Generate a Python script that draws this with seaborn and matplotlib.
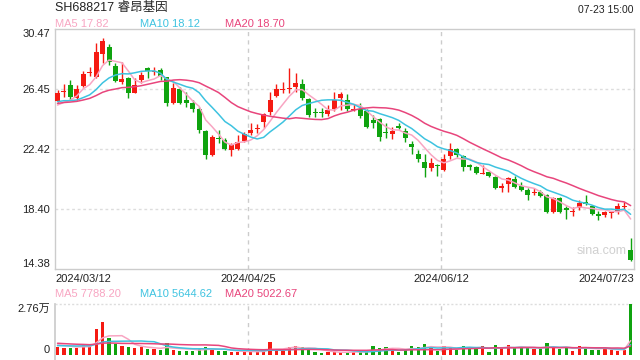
import numpy as np
import pandas as pd
import matplotlib
matplotlib.use("Agg")
import matplotlib.pyplot as plt
import seaborn as sns

# ---------------- data ----------------
title = "SH688217 睿昂基因"
stamp = "07-23 15:00"

opens = [25.66, 26.27, 26.71, 25.82, 26.67, 27.53, 27.27, 28.79, 29.28, 28.01,
         26.89, 27.16, 26.20, 27.05, 27.83, 27.61, 27.72, 27.23, 25.53, 26.42,
         25.71, 25.53, 25.11, 23.63, 22.02, 23.18, 23.03, 22.36, 22.42, 22.98,
         23.47, 23.74, 24.21, 24.93, 26.00, 26.38, 26.44, 26.56, 26.78, 25.75,
         24.93, 24.93, 24.75, 25.08, 25.82, 25.71, 25.04, 25.11, 25.00, 24.37,
         24.42, 23.59, 23.44, 23.97, 23.64, 22.77, 22.10, 21.54, 21.18, 21.36,
         21.02, 21.98, 22.43, 21.96, 21.36, 21.25, 20.78, 20.86, 20.57, 19.84,
         20.06, 20.42, 19.95, 19.68, 19.50, 19.57, 19.34, 18.23, 19.16, 18.45,
         18.20, 18.45, 18.85, 18.63, 18.07, 18.00, 18.16, 18.18, 18.54, 15.66]
closes = [26.20, 26.33, 25.93, 26.42, 27.45, 27.58, 28.95, 29.69, 28.28, 27.00,
          27.12, 26.16, 26.71, 27.38, 27.67, 27.67, 27.32, 25.53, 26.54, 25.53,
          25.53, 25.11, 23.70, 22.02, 23.25, 23.07, 22.40, 22.69, 22.92, 23.43,
          23.70, 23.81, 24.75, 25.71, 26.44, 26.42, 26.49, 26.87, 25.82, 24.70,
          24.86, 24.86, 25.04, 25.71, 26.11, 25.11, 25.11, 24.66, 23.93, 24.20,
          23.26, 23.53, 23.64, 23.86, 23.19, 22.59, 21.74, 21.18, 21.51, 21.29,
          21.76, 22.43, 22.03, 21.25, 21.25, 20.84, 20.84, 20.64, 19.79, 19.97,
          20.46, 19.90, 19.68, 19.34, 19.57, 19.30, 18.18, 19.12, 18.23, 18.34,
          18.27, 18.79, 18.74, 18.07, 17.94, 18.23, 18.23, 18.61, 18.61, 14.98]
highs = [26.38, 26.76, 27.05, 26.71, 27.67, 27.94, 29.51, 29.84, 29.46, 28.17,
         28.23, 27.27, 27.16, 27.60, 27.94, 27.94, 27.83, 27.27, 26.87, 26.60,
         26.27, 25.71, 25.26, 23.70, 23.36, 23.70, 23.14, 22.80, 23.36, 23.59,
         24.15, 24.08, 24.86, 26.27, 26.78, 26.94, 27.83, 27.54, 27.09, 25.82,
         25.20, 25.20, 25.37, 26.27, 26.27, 26.09, 25.42, 25.49, 25.11, 24.71,
         24.49, 24.15, 23.93, 24.15, 23.86, 22.97, 22.36, 22.07, 21.81, 21.43,
         22.07, 22.81, 22.52, 22.03, 21.40, 21.29, 21.36, 20.91, 20.62, 20.17,
         20.53, 20.62, 20.19, 19.79, 19.79, 19.68, 19.39, 19.19, 19.23, 18.61,
         18.56, 19.01, 19.34, 18.67, 18.29, 18.29, 18.29, 18.83, 18.90, 16.44]
lows = [25.60, 25.93, 25.71, 25.71, 26.60, 27.32, 27.16, 28.17, 28.05, 26.94,
        26.76, 25.86, 26.16, 26.87, 27.16, 27.38, 27.05, 25.31, 25.44, 25.44,
        25.26, 24.93, 23.47, 21.76, 21.98, 22.80, 22.36, 21.98, 22.36, 22.92,
        23.36, 23.52, 23.81, 24.70, 25.89, 26.16, 26.16, 26.27, 25.71, 24.55,
        24.59, 24.55, 24.64, 24.99, 25.04, 24.98, 24.98, 24.49, 23.86, 23.86,
        22.99, 23.15, 23.10, 23.77, 22.92, 22.07, 21.54, 20.58, 20.96, 20.64,
        20.96, 21.76, 21.92, 20.96, 21.02, 20.76, 20.73, 20.57, 19.72, 19.57,
        19.57, 19.79, 19.63, 19.01, 19.34, 19.23, 18.11, 18.11, 18.16, 17.74,
        17.94, 18.34, 18.67, 18.00, 17.67, 17.85, 17.78, 18.07, 18.34, 14.94]
volumes = [4177, 3995, 3995, 3995, 5993, 4540, 14165, 17615, 9443, 6174,
           4903, 4358, 3995, 4540, 3450, 3269, 2724, 6538, 2906, 2179,
           2179, 2179, 3813, 4358, 3087, 2179, 2179, 1816, 1816, 1816,
           1816, 1816, 2361, 7082, 2724, 2361, 4540, 4903, 4177, 3087,
           1634, 908, 1634, 1453, 1816, 1634, 1453, 1634, 1816, 4903,
           3813, 4358, 3087, 1634, 3087, 4903, 4358, 5993, 4177, 2179,
           4903, 3995, 2724, 4903, 3632, 3632, 4903, 1634, 5448, 3632,
           5448, 4177, 3813, 3813, 3269, 3269, 6538, 4177, 3269, 3995,
           2179, 4903, 3995, 2906, 2906, 3269, 2724, 2361, 2906, 27600]

# sessions before the first visible one (only used to seed the moving averages)
prior_closes = [25.1, 25.3, 25.5, 25.6, 25.4, 25.2, 25.3, 25.5, 25.4, 25.3,
                25.7, 25.9, 26.0, 25.8, 25.75, 25.4, 25.2, 25.0, 25.05]
prior_volumes = [8000, 7500, 7200, 7800, 7600, 7400, 7900, 7700, 7500, 7670,
                 4800, 4600, 4700, 4900, 4610, 5600, 5900, 5800, 5763]

price_ticks = [30.47, 26.45, 22.42, 18.40, 14.38]
price_tick_labels = ["30.47", "26.45", "22.42", "18.40", "14.38"]
date_ticks = [0, 30, 60, 89]
date_labels = ["2024/03/12", "2024/04/25", "2024/06/12", "2024/07/23"]
vol_ticks = [27600, 0]
vol_tick_labels = ["2.76万", "0"]

price_legend = [("MA5", "17.82"), ("MA10", "18.12"), ("MA20", "18.70")]
vol_legend = [("MA5", "7788.20"), ("MA10", "5644.62"), ("MA20", "5022.67")]

# ---------------- styles ----------------
UP = "#f51a12"
DOWN = "#0fa30f"
MA_COLORS = ["#f8a5c2", "#3ec3e0", "#e8457c"]
GRID = "#dddddd"
FRAME = "#cccccc"
TEXT = "#222222"

sns.set_theme(style="white")
plt.rcParams["font.family"] = ["Liberation Sans", "Noto Sans CJK SC", "DejaVu Sans"]

n = len(closes)
idx = np.arange(n)
df = pd.DataFrame({"i": idx, "open": opens, "close": closes,
                   "high": highs, "low": lows, "vol": volumes})
df["up"] = df["close"] >= df["open"]
df["color"] = np.where(df["up"], UP, DOWN)

full_c = pd.Series(prior_closes + closes)
full_v = pd.Series(prior_volumes + volumes)
for w in (5, 10, 20):
    df[f"ma{w}"] = full_c.rolling(w).mean().values[-n:]
    df[f"vma{w}"] = full_v.rolling(w).mean().values[-n:]

W, H = 640, 360
fig = plt.figure(figsize=(6.4, 3.6), dpi=100)
ax = fig.add_axes([55 / W, 1 - 269 / H, 579 / W, 240 / H])
axv = fig.add_axes([55 / W, 0, 579 / W, 56 / H])

x0, x1 = -0.39, 89.52
slot_shift = -0.4

# ---------------- price panel ----------------
ax.set_xlim(x0, x1)
ax.set_ylim(14.38, 30.47)
ax.vlines(df["i"], df["low"], df["high"], colors=df["color"], lw=1, zorder=3)
body = (df["close"] - df["open"]).abs().clip(lower=0.05)
ax.bar(df["i"], body, bottom=df[["open", "close"]].min(axis=1), width=0.78,
       color=df["color"], linewidth=0, zorder=4)
for w, c in zip((5, 10, 20), MA_COLORS):
    sns.lineplot(x=df["i"], y=df[f"ma{w}"], ax=ax, color=c, lw=1.1, zorder=5)

for v in price_ticks[1:-1]:
    ax.axhline(v, color=GRID, lw=1, ls=(0, (2, 2)), zorder=1)
for t in date_ticks[1:-1]:
    ax.axvline(t + slot_shift, color=FRAME, lw=1, ls=(0, (3, 3)), zorder=1)

ax.set_yticks(price_ticks)
ax.set_yticklabels(price_tick_labels)
ylabs = ax.get_yticklabels()
ylabs[0].set_va("top")
ylabs[-1].set_va("bottom")
ax.set_xticks([x0] + [t + slot_shift for t in date_ticks[1:-1]] + [x1])
ax.set_xticklabels(date_labels)
xlabs = ax.get_xticklabels()
xlabs[0].set_ha("left")
xlabs[-1].set_ha("right")
ax.tick_params(axis="both", length=0, labelsize=8, colors=TEXT)
ax.tick_params(axis="y", pad=3.5)
ax.tick_params(axis="x", pad=3.5)
ax.set_xlabel("")
ax.set_ylabel("")
for s in ax.spines.values():
    s.set_color(FRAME)
    s.set_linewidth(1)

# ---------------- volume panel ----------------
axv.set_xlim(x0, x1)
axv.set_ylim(-27600 * 5 / 51, 27600)
axv.bar(df["i"], df["vol"], width=0.5, color=df["color"], linewidth=0, zorder=3)
for w, c in zip((5, 10, 20), MA_COLORS):
    sns.lineplot(x=df["i"], y=df[f"vma{w}"], ax=axv, color=c, lw=1.1, zorder=4)
axv.axhline(27600, color=GRID, lw=1, ls=(0, (1.5, 1.5)), clip_on=False, zorder=1)
for t in date_ticks[1:-1]:
    axv.axvline(t + slot_shift, color=FRAME, lw=1, ls=(0, (3, 3)), zorder=1)
axv.set_yticks(vol_ticks)
axv.set_yticklabels(vol_tick_labels)
vl = axv.get_yticklabels()
vl[0].set_va("top")
vl[1].set_va("bottom")
axv.set_xticks([])
axv.tick_params(axis="y", length=0, labelsize=8, colors=TEXT, pad=3.5)
axv.set_xlabel("")
axv.set_ylabel("")
for k, s in axv.spines.items():
    s.set_visible(k == "left")
    s.set_color(FRAME)

# ---------------- header texts ----------------
def ftext(px, py, s, **kw):
    fig.text(px / W, 1 - py / H, s, va="center", **kw)

ftext(55, 8.5, title, fontsize=9, color=TEXT, ha="left")
ftext(634, 10, stamp, fontsize=7.5, color=TEXT, ha="right")
for (name, val), xp, c in zip(price_legend, (55, 140, 225), MA_COLORS):
    ftext(xp, 24, f"{name} {val}", fontsize=8, color=c, ha="left")
for (name, val), xp, c in zip(vol_legend, (55, 140, 225), MA_COLORS):
    ftext(xp, 294, f"{name} {val}", fontsize=8, color=c, ha="left")
ftext(602, 250.5, "sina.com", fontsize=9, color="#d0d0d0", ha="center")

fig.savefig("out.png", dpi=100)
